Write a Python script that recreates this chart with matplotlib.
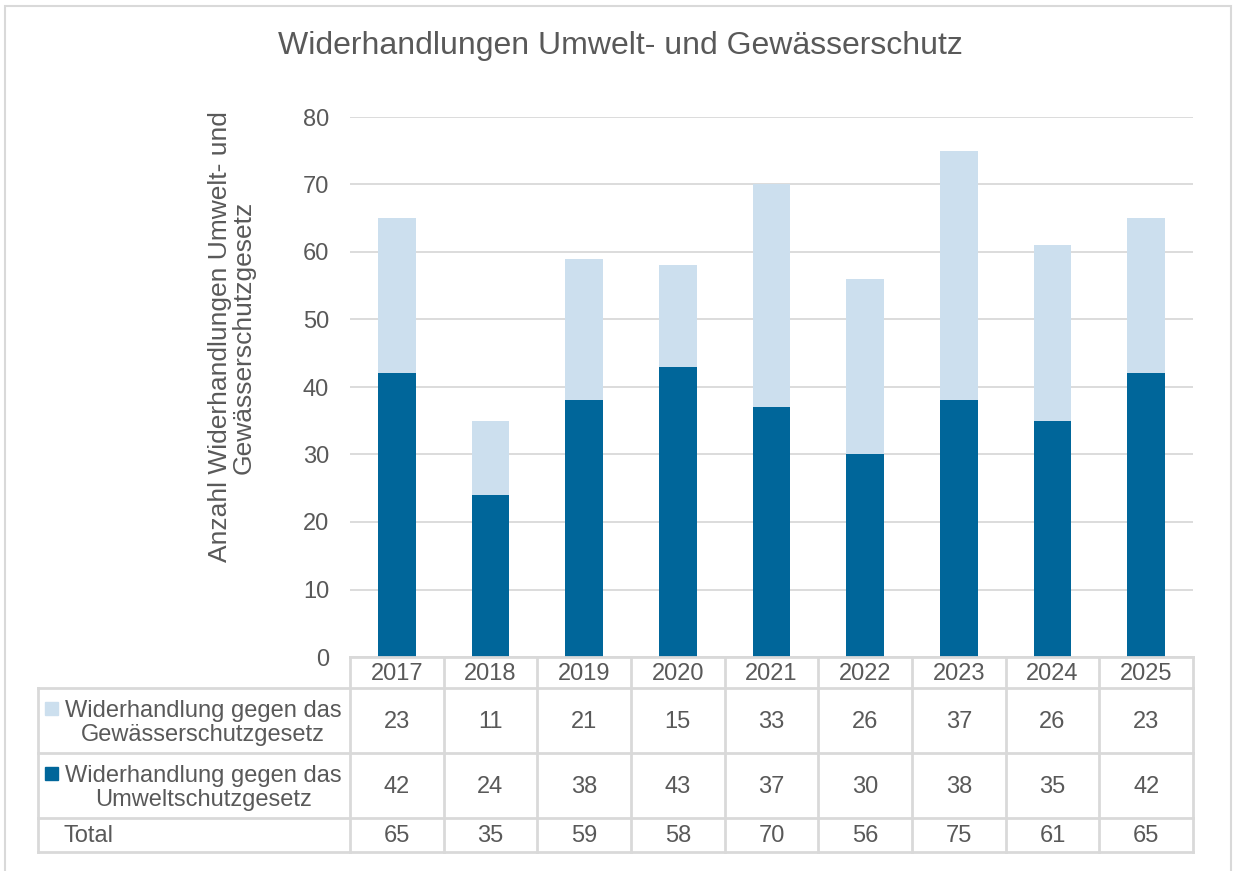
import matplotlib
matplotlib.use("Agg")
import matplotlib.pyplot as plt
from matplotlib.lines import Line2D
from matplotlib.patches import Rectangle

years = ["2017", "2018", "2019", "2020", "2021", "2022", "2023", "2024", "2025"]
gewaesser = [23, 11, 21, 15, 33, 26, 37, 26, 23]
umwelt = [42, 24, 38, 43, 37, 30, 38, 35, 42]
totals = [65, 35, 59, 58, 70, 56, 75, 61, 65]
label_gew = "Widerhandlung gegen das\nGewässerschutzgesetz"
label_umw = "Widerhandlung gegen das\nUmweltschutzgesetz"
title = "Widerhandlungen Umwelt- und Gewässerschutz"
ylabel = "Anzahl Widerhandlungen Umwelt- und\nGewässerschutzgesetz"

DARK = "#00669A"
LIGHT = "#CCDFEE"
GRID = "#D9D9D9"
TXT = "#595959"

plt.rcParams['font.family'] = ['Liberation Sans', 'DejaVu Sans']

W, H = 1233, 871
fig = plt.figure(figsize=(W / 100, H / 100), dpi=100)

def fx(px):
    return px / W

def fy(py):
    return 1 - py / H

x0, x1 = 350, 1193
ytop, ybot = 117, 657
ax = fig.add_axes([fx(x0), fy(ybot), fx(x1) - fx(x0), fy(ytop) - fy(ybot)])
n = len(years)
xs = list(range(n))
ax.bar(xs, umwelt, width=0.4, color=DARK, zorder=3)
ax.bar(xs, gewaesser, bottom=umwelt, width=0.4, color=LIGHT, zorder=3)
ax.set_xlim(-0.5, n - 0.5)
ax.set_ylim(0, 80)
ax.set_yticks(range(0, 81, 10))
ax.set_xticks([])
ax.yaxis.grid(True, color=GRID, linewidth=1.3, zorder=0)
for s in ax.spines.values():
    s.set_visible(False)
ax.tick_params(axis='y', length=0, pad=15, labelsize=17, labelcolor=TXT)

fig.text(fx(620), fy(46), title, fontsize=23, color=TXT, ha='center', va='center')
fig.text(fx(232), fy(337), ylabel, fontsize=19, color=TXT, ha='center', va='center',
         rotation=90, multialignment='center', linespacing=0.95)

# border
fig.patches.append(Rectangle((fx(5), fy(900)), fx(1231) - fx(5), fy(6) - fy(900),
                             transform=fig.transFigure, fill=False, edgecolor=GRID,
                             linewidth=1.5))

# table
colw = (x1 - x0) / n
col_edges = [x0 + k * colw for k in range(n + 1)]
rows = [657, 688, 753, 818, 852]
lw = 2.0

def hline(y, xa, xb):
    fig.add_artist(Line2D([fx(xa), fx(xb)], [fy(y), fy(y)], transform=fig.transFigure,
                          color=GRID, linewidth=lw))

def vline(x, ya, yb):
    fig.add_artist(Line2D([fx(x), fx(x)], [fy(ya), fy(yb)], transform=fig.transFigure,
                          color=GRID, linewidth=lw))

hline(657, x0, x1)
for y in rows[1:]:
    hline(y, 38, x1)
for x in col_edges:
    vline(x, 657, 852)
vline(38, 688, 852)

fs = 17
for i in range(n):
    cx = fx(col_edges[i] + colw / 2)
    fig.text(cx, fy(674), years[i], fontsize=fs, color=TXT, ha='center', va='center')
    fig.text(cx, fy(722), str(gewaesser[i]), fontsize=fs, color=TXT, ha='center', va='center')
    fig.text(cx, fy(787), str(umwelt[i]), fontsize=fs, color=TXT, ha='center', va='center')
    fig.text(cx, fy(836), str(totals[i]), fontsize=fs, color=TXT, ha='center', va='center')

fig.text(fx(203), fy(723), label_gew, fontsize=fs, color=TXT, ha='center', va='center',
         multialignment='center', linespacing=1.15)
fig.text(fx(203), fy(788), label_umw, fontsize=fs, color=TXT, ha='center', va='center',
         multialignment='center', linespacing=1.15)
fig.text(fx(63), fy(836), "Total", fontsize=fs, color=TXT, ha='left', va='center')
fig.patches.append(Rectangle((fx(45), fy(715)), fx(13), fy(0) - fy(13),
                             transform=fig.transFigure, color=LIGHT))
fig.patches.append(Rectangle((fx(45), fy(780)), fx(13), fy(0) - fy(13),
                             transform=fig.transFigure, color=DARK))

fig.savefig("out.png", dpi=100, facecolor="white")
